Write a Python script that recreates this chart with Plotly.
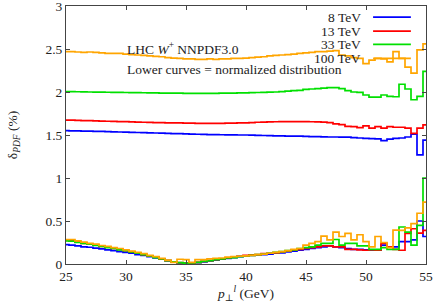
import numpy as np
import plotly.graph_objects as go

# bin positions (GeV), histogram steps centred on these points
pt = np.arange(25.0, 55.001, 0.5)

series_names = ["8 TeV", "13 TeV", "33 TeV", "100 TeV"]
series_colors = ["#0000ff", "#ff0000", "#00e000", "#ffa500"]

# upper curves: absolute PDF uncertainty (%)
up_8 = [1.55, 1.549, 1.548, 1.546, 1.545, 1.543, 1.541, 1.539, 1.537, 1.535,
        1.533, 1.531, 1.529, 1.527, 1.525, 1.523, 1.521, 1.519, 1.517, 1.515,
        1.513, 1.511, 1.509, 1.507, 1.505, 1.504, 1.503, 1.502, 1.501, 1.50,
        1.50, 1.498, 1.496, 1.494, 1.492, 1.49, 1.489, 1.488, 1.487, 1.486,
        1.484, 1.482, 1.48, 1.478, 1.477, 1.477, 1.476, 1.475, 1.47, 1.465,
        1.46, 1.458, 1.455, 1.434, 1.453, 1.46, 1.465, 1.477, 1.51, 1.27, 1.44]
up_13 = [1.674, 1.672, 1.67, 1.668, 1.666, 1.664, 1.662, 1.66, 1.658, 1.656,
         1.655, 1.652, 1.65, 1.648, 1.646, 1.645, 1.644, 1.642, 1.64, 1.64,
         1.638, 1.638, 1.636, 1.636, 1.635, 1.636, 1.636, 1.637, 1.638, 1.64,
         1.642, 1.645, 1.648, 1.65, 1.652, 1.654, 1.655, 1.656, 1.656, 1.655,
         1.655, 1.654, 1.652, 1.65, 1.645, 1.63, 1.62, 1.60, 1.597, 1.585,
         1.605, 1.58, 1.597, 1.58, 1.597, 1.59, 1.59, 1.58, 1.52, 1.58, 1.617]
up_33 = [2.005, 2.004, 2.003, 2.002, 2.0, 1.999, 1.998, 1.997, 1.996, 1.995,
         1.994, 1.993, 1.992, 1.991, 1.99, 1.989, 1.988, 1.987, 1.986, 1.986,
         1.985, 1.985, 1.985, 1.985, 1.985, 1.985, 1.986, 1.987, 1.988, 1.989,
         1.99, 1.992, 1.994, 1.996, 1.998, 2.0, 2.005, 2.01, 2.015, 2.02,
         2.03, 2.035, 2.04, 2.045, 2.05, 2.05, 2.04, 2.015, 2.0, 1.995,
         1.965, 1.94, 1.94, 1.965, 1.95, 1.945, 2.09, 2.035, 1.91, 1.95, 2.24]
up_100 = [2.47, 2.47, 2.465, 2.46, 2.465, 2.46, 2.455, 2.45, 2.45, 2.45,
          2.44, 2.435, 2.43, 2.425, 2.42, 2.415, 2.41, 2.40, 2.395, 2.39,
          2.385, 2.385, 2.38, 2.38, 2.385, 2.38, 2.385, 2.385, 2.39, 2.39,
          2.395, 2.40, 2.405, 2.41, 2.42, 2.425, 2.43, 2.435, 2.44, 2.45,
          2.455, 2.46, 2.47, 2.47, 2.475, 2.48, 2.43, 2.42, 2.40, 2.39,
          2.33, 2.37, 2.39, 2.385, 2.35, 2.47, 2.39, 2.29, 2.22, 2.49, 2.56]

# lower curves: normalized distribution uncertainty (%)
lo_8 = [0.225, 0.22, 0.21, 0.2, 0.195, 0.185, 0.175, 0.165, 0.155, 0.145,
        0.135, 0.125, 0.11, 0.1, 0.085, 0.07, 0.055, 0.04, 0.025, 0.012,
        0.008, 0.008, 0.015, 0.025, 0.035, 0.045, 0.055, 0.065, 0.075, 0.085,
        0.095, 0.1, 0.105, 0.11, 0.115, 0.125, 0.13, 0.14, 0.15, 0.16,
        0.17, 0.18, 0.19, 0.2, 0.21, 0.2, 0.19, 0.18, 0.17, 0.17,
        0.165, 0.16, 0.16, 0.22, 0.2, 0.2, 0.26, 0.26, 0.28, 0.5, 0.32]
lo_13 = [0.275, 0.27, 0.255, 0.24, 0.23, 0.22, 0.205, 0.195, 0.18, 0.17,
         0.155, 0.14, 0.125, 0.11, 0.095, 0.08, 0.06, 0.04, 0.025, 0.015,
         0.01, 0.012, 0.02, 0.03, 0.04, 0.05, 0.06, 0.07, 0.08, 0.09,
         0.1, 0.105, 0.11, 0.12, 0.125, 0.13, 0.14, 0.15, 0.16, 0.17,
         0.18, 0.19, 0.2, 0.21, 0.21, 0.2, 0.2, 0.17, 0.17, 0.165,
         0.16, 0.165, 0.16, 0.24, 0.2, 0.17, 0.16, 0.356, 0.41, 0.36, 0.39]
lo_33 = [0.27, 0.265, 0.25, 0.24, 0.23, 0.215, 0.205, 0.19, 0.18, 0.165,
         0.155, 0.14, 0.125, 0.11, 0.095, 0.075, 0.06, 0.04, 0.025, 0.015,
         0.01, 0.012, 0.02, 0.03, 0.04, 0.05, 0.06, 0.07, 0.075, 0.085,
         0.095, 0.1, 0.11, 0.115, 0.125, 0.135, 0.145, 0.155, 0.165, 0.18,
         0.19, 0.2, 0.22, 0.24, 0.24, 0.285, 0.22, 0.24, 0.24, 0.21,
         0.21, 0.17, 0.17, 0.19, 0.17, 0.17, 0.43, 0.37, 0.22, 0.45, 1.0]
lo_100 = [0.285, 0.285, 0.27, 0.255, 0.24, 0.23, 0.215, 0.205, 0.19, 0.18,
          0.165, 0.15, 0.135, 0.12, 0.10, 0.085, 0.065, 0.045, 0.02, 0.055,
          0.05, 0.02, 0.05, 0.05, 0.06, 0.065, 0.07, 0.08, 0.085, 0.09,
          0.095, 0.10, 0.11, 0.115, 0.125, 0.135, 0.145, 0.155, 0.17, 0.18,
          0.22, 0.24, 0.26, 0.325, 0.28, 0.37, 0.32, 0.356, 0.28, 0.34,
          0.26, 0.2, 0.32, 0.25, 0.19, 0.395, 0.39, 0.42, 0.47, 0.59, 0.72]

upper = [up_8, up_13, up_33, up_100]
lower = [lo_8, lo_13, lo_33, lo_100]

x_ticks = [25, 30, 35, 40, 45, 50, 55]
y_ticks = [0, 0.5, 1, 1.5, 2, 2.5, 3]
y_ticklabels = ["0", "0.5", "1", "1.5", "2", "2.5", "3"]

FONT = "Liberation Serif, DejaVu Serif, serif"
FS = 13.5

fig = go.Figure()
for name, col, u, l in zip(series_names, series_colors, upper, lower):
    for ys in (u, l):
        fig.add_trace(go.Scatter(
            x=pt, y=ys, mode="lines", name=name, showlegend=False,
            line=dict(color=col, width=1.7, shape="hvh")))

# custom gnuplot-style legend (text right-aligned, line sample to the right)
leg_y = [0.957, 0.903, 0.851, 0.797]
for name, col, yy in zip(series_names, series_colors, leg_y):
    fig.add_annotation(x=0.826, y=yy, xref="paper", yref="paper", text=name,
                       showarrow=False, xanchor="right", yanchor="middle",
                       font=dict(family=FONT, size=FS, color="#222"))
    fig.add_shape(type="line", xref="paper", yref="paper",
                  x0=0.853, x1=0.958, y0=yy, y1=yy,
                  line=dict(color=col, width=1.7))

fig.add_annotation(x=0.163, y=0.837, xref="paper", yref="paper",
                   text="LHC <i>W</i><sup>+</sup> NNPDF3.0", showarrow=False,
                   xanchor="left", yanchor="middle",
                   font=dict(family=FONT, size=FS, color="#222"))
fig.add_annotation(x=0.163, y=0.752, xref="paper", yref="paper",
                   text="Lower curves = normalized distribution", showarrow=False,
                   xanchor="left", yanchor="middle",
                   font=dict(family=FONT, size=FS, color="#222"))

axis_common = dict(showline=True, linecolor="#444", linewidth=1, mirror="ticks",
                   ticks="inside", ticklen=4, tickcolor="#444", showgrid=False,
                   zeroline=False, automargin=False, ticklabeloverflow="allow",
                   tickfont=dict(family=FONT, size=FS, color="#222"))

fig.update_xaxes(range=[25, 55], tickvals=x_ticks,
                 title=dict(text="<i>p</i><sub>⊥</sub><sup><i>l</i></sup> (GeV)",
                            font=dict(family=FONT, size=FS, color="#222"),
                            standoff=2),
                 **axis_common)
fig.update_yaxes(range=[0, 3], tickvals=y_ticks, ticktext=y_ticklabels,
                 title=dict(text="δ<sub><i>PDF</i></sub> (%)",
                            font=dict(family=FONT, size=FS, color="#222"),
                            standoff=24),
                 **axis_common)

fig.update_layout(width=436, height=307, margin=dict(l=66, r=10, t=6, b=43),
                  plot_bgcolor="white", paper_bgcolor="white")

fig.write_html("out.html", config={"displayModeBar": False},
               post_script="document.body.style.margin='0';document.body.style.padding='0';")
